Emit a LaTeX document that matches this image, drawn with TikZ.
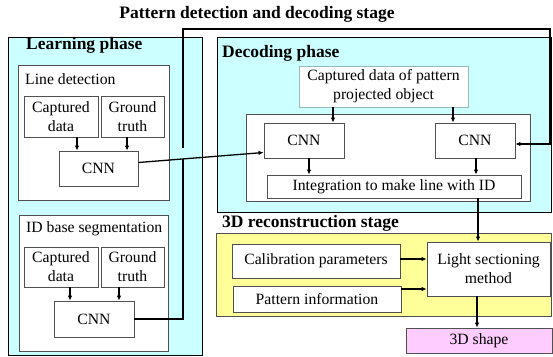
\documentclass[tikz,border=0pt]{standalone}
\usepackage{fontspec}
\setmainfont{Liberation Serif}
\usetikzlibrary{arrows.meta}
\definecolor{cyanbg}{RGB}{204,255,255}
\definecolor{yellowbg}{RGB}{255,255,153}
\definecolor{pinkbg}{RGB}{255,204,255}
\definecolor{boxline}{RGB}{80,80,80}
\definecolor{paleline}{RGB}{150,185,185}
\tikzset{
  phase/.style={draw=black, line width=0.8pt},
  group/.style={draw=boxline, fill=white, line width=0.8pt},
  box/.style={draw=boxline, fill=white, line width=0.8pt, inner sep=0pt, align=center,
    font=\fontsize{15.7}{19}\selectfont},
  ttl/.style={inner sep=0pt, anchor=west, font=\fontsize{17.5}{20}\selectfont\bfseries},
  lbl/.style={inner sep=0pt, anchor=west, font=\fontsize{15.7}{19}\selectfont},
  arr/.style={draw=black, line width=1.3pt, -{Latex[length=5pt,width=4.5pt]}},
}
\begin{document}
\begin{tikzpicture}[x=1pt,y=-1pt]
\useasboundingbox (0,0) rectangle (553,356);
% containers
\node[ttl, anchor=center] (title) at (257,14) {Pattern detection and decoding stage};
\path[phase, fill=cyanbg] (8,37) rectangle (202,355.5);
\path[group] (18,65) rectangle (169,200);
\path[group] (19,215) rectangle (168,351);
\path[phase, fill=cyanbg] (217,37) rectangle (551,212);
\path[group] (246,114) rectangle (530,201);
\path[phase, fill=yellowbg, draw=boxline] (216,233) rectangle (551,316);
% titles
\node[ttl] (learn) at (26,45) {Learning phase};
\node[ttl] (decode) at (222,53) {Decoding phase};
\node[ttl] (recon) at (222,223) {3D reconstruction stage};
\node[lbl] (linedet) at (25,79) {Line detection};
\node[lbl] (idseg) at (26,229) {ID base segmentation};
% learning boxes
\node[box, minimum width=74, minimum height=41] (cdA) at (61,116.5) {Captured\\data};
\node[box, minimum width=63, minimum height=41] (gtA) at (132.5,116.5) {Ground\\truth};
\node[box, minimum width=79, minimum height=35] (cnnA) at (98.5,168.5) {CNN};
\node[box, minimum width=74, minimum height=40] (cdB) at (61,267) {Captured\\data};
\node[box, minimum width=63, minimum height=40] (gtB) at (132.5,267) {Ground\\truth};
\node[box, minimum width=80, minimum height=36] (cnnB) at (94,319) {CNN};
% decoding boxes
\node[box, draw=paleline, minimum width=169, minimum height=41] (cap) at (383.5,86.5) {Captured data of pattern\\projected object};
\node[box, minimum width=80, minimum height=35] (cnnC) at (304,140.5) {CNN};
\node[box, minimum width=80, minimum height=35] (cnnD) at (475,140.5) {CNN};
\node[box, minimum width=254, minimum height=23] (integ) at (394,186.5) {Integration to make line with ID};
% reconstruction boxes
\node[box, minimum width=168, minimum height=34] (calib) at (316,261) {Calibration parameters};
\node[box, minimum width=168, minimum height=26] (pat) at (317,299) {Pattern information};
\node[box, minimum width=123, minimum height=54] (light) at (488.5,269) {Light sectioning\\method};
\node[box, fill=pinkbg, minimum width=146, minimum height=25] (shape) at (479,340.5) {3D shape};
% connectors
\draw[arr] (77,0 |- cdA.south) -- (77,0 |- cnnA.north);
\draw[arr] (127,0 |- gtA.south) -- (127,0 |- cnnA.north);
\draw[arr] (70,0 |- cdB.south) -- (70,0 |- cnnB.north);
\draw[arr] (119,0 |- gtB.south) -- (119,0 |- cnnB.north);
\coordinate (w1) at (183,0 |- cnnB.east);
\coordinate (w2) at (183,29);
\coordinate (w3) at (550,29);
\coordinate (dend) at ([yshift=-3.5pt]cnnD.east);
\draw[arr] (cnnB.east) -- (w1) -- (w2) -- (w3) -- (550,0 |- dend) -- (dend);
\fill[cyanbg] (180,148) rectangle (186,159);
\draw[arr] ([yshift=6pt]cnnA.east) -- ([yshift=-12pt]cnnC.west);
\draw[arr] (333,0 |- cap.south) -- (333,0 |- cnnC.north);
\draw[arr] (453,0 |- cap.south) -- (453,0 |- cnnD.north);
\draw[arr] (309,0 |- cnnC.south) -- (309,0 |- integ.north);
\draw[arr] (476,0 |- cnnD.south) -- (476,0 |- integ.north);
\draw[arr] (478,0 |- integ.south) -- (478,0 |- light.north);
\draw[arr] (calib.east |- 0,259) -- (light.west |- 0,259);
\draw[arr] (pat.east |- 0,289) -- (light.west |- 0,289);
\draw[arr] (477,0 |- light.south) -- (477,0 |- shape.north);
\end{tikzpicture}
\end{document}
